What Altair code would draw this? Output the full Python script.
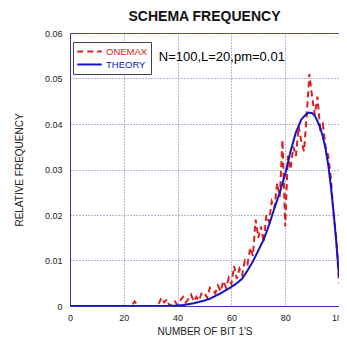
import altair as alt
import pandas as pd

TITLE = "SCHEMA FREQUENCY"
X_TITLE = "NUMBER OF BIT 1'S"
Y_TITLE = "RELATIVE FREQUENCY"
ANNOTATION = "N=100,L=20,pm=0.01"
ANNOT_X = [33.0]
ANNOT_Y = [0.0547]

X_TICKS = [0, 20, 40, 60, 80, 100]
Y_TICKS = [0, 0.01, 0.02, 0.03, 0.04, 0.05, 0.06]
SERIES = ["ONEMAX", "THEORY"]
COLORS = ["#d92020", "#1414c4"]

THEORY_X = [0, 10, 20, 30, 36, 40, 42, 44, 46, 48, 50, 52, 54, 56, 58, 60, 62, 64,
            66, 68, 70, 72, 74, 76, 78, 80, 82, 84, 86, 88, 89, 90, 91, 92, 93, 94,
            95, 96, 97, 98, 99, 100]
THEORY_Y = [0, 0, 0, 0, 0, 0.0001, 0.0002, 0.0004, 0.0006, 0.0009, 0.0012, 0.0016,
            0.0022, 0.0028, 0.0035, 0.0042, 0.0050, 0.0060, 0.0078, 0.0098, 0.0122,
            0.0146, 0.0178, 0.0215, 0.0250, 0.0290, 0.0340, 0.0382, 0.0410, 0.0423,
            0.0425, 0.0424, 0.0418, 0.0406, 0.0392, 0.0372, 0.0346, 0.0310, 0.0262,
            0.0205, 0.0140, 0.0065]

ONEMAX_X = list(range(20, 101))
ONEMAX_Y = [0, 0, 0, 0, 0.0010, 0.0003, 0, 0, 0, 0, 0, 0, 0, 0.0005, 0.0018, 0.0008,
            0.0015, 0, 0.0005, 0.0010, 0.0002, 0.0012, 0.0020, 0.0008, 0.0015, 0.0025,
            0.0010, 0.0020, 0.0012, 0.0030, 0.0028, 0.0018, 0.0040, 0.0035, 0.0028,
            0.0045, 0.0032, 0.0055, 0.0040, 0.0062, 0.0048, 0.0088, 0.0060, 0.0082,
            0.0068, 0.0100, 0.0092, 0.0128, 0.0110, 0.0190, 0.0150, 0.0175, 0.0140,
            0.0200, 0.0185, 0.0230, 0.0215, 0.0270, 0.0240, 0.0365, 0.0175, 0.0330,
            0.0300, 0.0350, 0.0330, 0.0395, 0.0360, 0.0340, 0.0420, 0.0510, 0.0460,
            0.0420, 0.0460, 0.0390, 0.0400, 0.0350, 0.0330, 0.0280, 0.0200, 0.0150,
            0.0050]

df = pd.concat([
    pd.DataFrame({"x": ONEMAX_X, "y": ONEMAX_Y, "series": "ONEMAX"}),
    pd.DataFrame({"x": THEORY_X, "y": THEORY_Y, "series": "THEORY"}),
])

FONT = "Liberation Sans"
GRID = "#6f6fb8"
FRAME = "#3535b0"

xenc = alt.X("x:Q", scale=alt.Scale(domain=[0, 100], nice=False),
             axis=alt.Axis(values=X_TICKS, title=X_TITLE, grid=True, ticks=False,
                           labelPadding=7, titlePadding=4, domainColor=FRAME,
                           gridColor=GRID, gridDash=[1, 2], labelFlush=False))
yenc = alt.Y("y:Q", scale=alt.Scale(domain=[0, 0.06], nice=False),
             axis=alt.Axis(values=Y_TICKS, format="~g", title=Y_TITLE, grid=True,
                           ticks=False, labelPadding=8, titlePadding=20,
                           domainColor=FRAME, gridColor=GRID, gridDash=[1, 2]))

lines = alt.Chart(df).mark_line(strokeWidth=2, clip=True).encode(
    x=xenc,
    y=yenc,
    color=alt.Color("series:N", scale=alt.Scale(domain=SERIES, range=COLORS),
                    legend=alt.Legend(
                        title=None, orient="none", legendX=3, legendY=9,
                        fillColor="white", strokeColor="#444444", padding=3,
                        symbolType="stroke", symbolSize=600, symbolStrokeWidth=2,
                        clipHeight=13, rowPadding=0,
                        labelFontSize=9.5, labelFont=FONT, labelOffset=3,
                        labelColor=alt.expr("datum.value == 'ONEMAX' ? '#d92020' : '#1414c4'"))),
    strokeDash=alt.StrokeDash("series:N",
                              scale=alt.Scale(domain=SERIES, range=[[6, 4], [1, 0]]),
                              legend=None),
    order=alt.Order("x:Q"),
)

annot = alt.Chart(pd.DataFrame({"x": ANNOT_X, "y": ANNOT_Y, "t": [ANNOTATION]})).mark_text(
    align="left", baseline="middle", fontSize=13, font=FONT, color="black"
).encode(x="x:Q", y="y:Q", text="t:N")

chart = alt.layer(lines, annot).properties(
    width=269, height=273,
    title=alt.TitleParams(TITLE, font=FONT, fontSize=14, fontWeight="bold",
                          color="#111111", offset=5, anchor="middle"),
    autosize=alt.AutoSizeParams(type="none"),
    padding={"left": 62, "top": 25, "right": 0, "bottom": 33},
).configure_view(stroke=FRAME, strokeWidth=1).configure_axis(
    labelFont=FONT, labelFontSize=9, labelColor="#222222",
    titleFont=FONT, titleFontSize=10, titleFontWeight="normal", titleColor="#222222",
    domainWidth=1,
)

chart.save("out.html", embed_options={"renderer": "svg", "actions": False})
